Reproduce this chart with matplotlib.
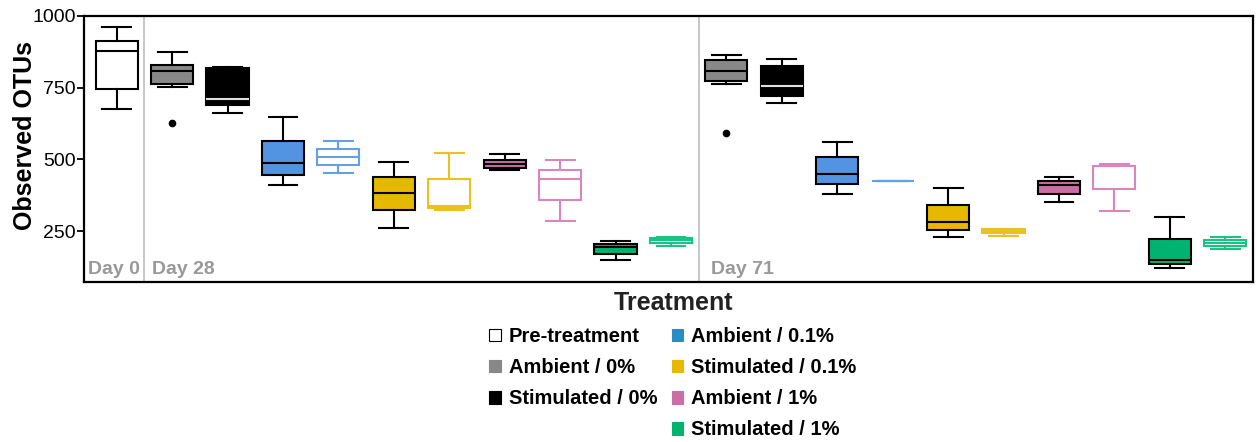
import matplotlib
matplotlib.use("Agg")
import matplotlib.pyplot as plt
from matplotlib.patches import Patch
from matplotlib.transforms import blended_transform_factory

plt.rcParams["font.family"] = ["Liberation Sans", "DejaVu Sans"]

# Treatment of each box, in plotting order (Day 0, then Day 28, then Day 71)
box_treatment = [
    "Pre-treatment",
    "Ambient / 0%", "Stimulated / 0%",
    "Ambient / 0.1%", "Ambient / 0.1%",
    "Stimulated / 0.1%", "Stimulated / 0.1%",
    "Ambient / 1%", "Ambient / 1%",
    "Stimulated / 1%", "Stimulated / 1%",
    "Ambient / 0%", "Stimulated / 0%",
    "Ambient / 0.1%", "Ambient / 0.1%",
    "Stimulated / 0.1%", "Stimulated / 0.1%",
    "Ambient / 1%", "Ambient / 1%",
    "Stimulated / 1%", "Stimulated / 1%",
]
# Whether the box is drawn filled or as an outline
box_filled = [False,
              True, True, True, False, True, False, True, False, True, False,
              True, True, True, False, True, False, True, False, True, False]

# Five-number summaries of observed OTUs
whislo = [676, 751, 660, 411, 452, 263, 325, 465, 285, 150, 199,
          763, 696, 379, 424, 229, 233, 351, 321, 121, 190]
q1 = [745, 761, 690, 447, 480, 325, 332, 472, 360, 172, 211,
      773, 719, 416, 424, 256, 245, 381, 397, 137, 198]
med = [877, 807, 710, 486, 508, 385, 338, 485, 433, 194, 220,
       807, 756, 450, 424, 284, 250, 412, 478, 149, 210]
q3 = [912, 828, 818, 564, 535, 439, 431, 497, 465, 205, 228,
      845, 826, 507, 424, 343, 257, 424, 478, 224, 219]
whishi = [962, 873, 822, 647, 563, 492, 522, 518, 497, 218, 229,
          862, 849, 562, 424, 400, 257, 438, 483, 300, 232]
fliers = {1: [626], 11: [593]}

sampling_days = ["Day 0", "Day 28", "Day 71"]
day_label_x = [-0.52, 0.63, 10.72]
day_separators = [0.5, 10.5]

legend_order = ["Pre-treatment", "Ambient / 0%", "Stimulated / 0%",
                "Ambient / 0.1%", "Stimulated / 0.1%", "Ambient / 1%",
                "Stimulated / 1%"]
legend_colors = {
    "Pre-treatment": "#FFFFFF",
    "Ambient / 0%": "#888888",
    "Stimulated / 0%": "#000000",
    "Ambient / 0.1%": "#2B8CC4",
    "Stimulated / 0.1%": "#E6B800",
    "Ambient / 1%": "#CC6DA8",
    "Stimulated / 1%": "#00B370",
}
fill_colors = {
    "Pre-treatment": "#FFFFFF",
    "Ambient / 0%": "#888888",
    "Stimulated / 0%": "#000000",
    "Ambient / 0.1%": "#5294E2",
    "Stimulated / 0.1%": "#E6B800",
    "Ambient / 1%": "#CC6DA8",
    "Stimulated / 1%": "#00B370",
}
outline_colors = {
    "Pre-treatment": "#000000",
    "Ambient / 0.1%": "#62A0EA",
    "Stimulated / 0.1%": "#EBC020",
    "Ambient / 1%": "#DA86BC",
    "Stimulated / 1%": "#1CC184",
}

fig = plt.figure(figsize=(12.57, 4.42), dpi=100)
ax = fig.add_axes([0.0668, 0.3627, 0.9300, 0.6018])

lw = 1.5
for i, treat in enumerate(box_treatment):
    stats = [dict(whislo=whislo[i], q1=q1[i], med=med[i], q3=q3[i],
                  whishi=whishi[i], fliers=fliers.get(i, []))]
    if box_filled[i]:
        face = fill_colors[treat]
        line = "#000000"
        med_col = "#E0E0E0" if treat == "Stimulated / 0%" else "#000000"
    else:
        face = "#FFFFFF"
        line = outline_colors[treat]
        med_col = line
    ax.bxp(stats, positions=[i], widths=0.76, capwidths=0.52,
           patch_artist=True, showfliers=True,
           boxprops=dict(facecolor=face, edgecolor=line, linewidth=lw),
           medianprops=dict(color=med_col, linewidth=lw),
           whiskerprops=dict(color=line, linewidth=lw),
           capprops=dict(color=line, linewidth=lw),
           flierprops=dict(marker="o", markersize=4.5,
                           markerfacecolor="#000000",
                           markeredgecolor="#000000"))

for xs in day_separators:
    ax.axvline(xs, color="#BDBDBD", linewidth=1.2, zorder=0)

trans = blended_transform_factory(ax.transData, ax.transAxes)
for lab, xl in zip(sampling_days, day_label_x):
    ax.text(xl, 0.012, lab, transform=trans, ha="left", va="bottom",
            fontsize=14, fontweight="bold", color="#999999")

ax.set_xlim(-0.59, 20.5)
ax.set_ylim(75, 1000)
ax.set_yticks([250, 500, 750, 1000])
ax.set_xticks([])
ax.tick_params(axis="y", labelsize=14, length=5, width=1.3,
               color="#000000", pad=0.8)
for sp in ax.spines.values():
    sp.set_linewidth(1.6)
    sp.set_color("#000000")
ax.set_ylabel("Observed OTUs", fontsize=18, fontweight="bold")
ax.yaxis.set_label_coords(-0.040, 0.548)

handles = []
labels = []
for name in legend_order[:3]:
    handles.append(Patch(facecolor=legend_colors[name], edgecolor="#000000"
                         if name == "Pre-treatment" else legend_colors[name],
                         linewidth=0.8))
    labels.append(name)
handles.append(Patch(facecolor="none", edgecolor="none"))
labels.append("")
for name in legend_order[3:]:
    handles.append(Patch(facecolor=legend_colors[name],
                         edgecolor=legend_colors[name], linewidth=0.8))
    labels.append(name)

leg = fig.legend(handles, labels, ncol=2, title="Treatment",
                 loc="upper center", bbox_to_anchor=(673 / 1257, 1 - 277 / 442),
                 frameon=False, prop=dict(size=14.5, weight="bold"),
                 title_fontproperties=dict(size=18, weight="bold"),
                 handlelength=0.58, handleheight=0.58, handletextpad=0.4,
                 columnspacing=0.7, labelspacing=0.6, borderpad=0.2)
leg.get_title().set_color("#222222")

fig.savefig("out.png", dpi=100)
